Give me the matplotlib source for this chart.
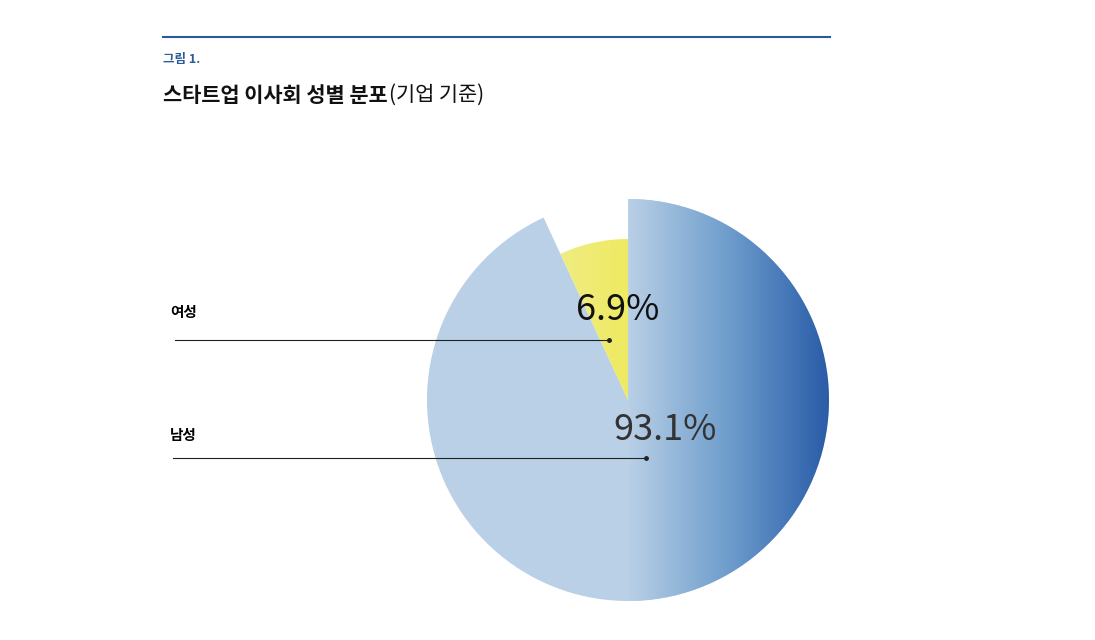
import numpy as np
import matplotlib
matplotlib.use("Agg")
import matplotlib.pyplot as plt
from matplotlib.patches import Wedge
from matplotlib.colors import LinearSegmentedColormap

plt.rcParams['font.family'] = ['Noto Sans CJK KR', 'DejaVu Sans']

categories = ['남성', '여성']
values = [93.1, 6.9]
labels = ['93.1%', '6.9%']

fig = plt.figure(figsize=(10.95, 6.4), dpi=100)
ax = fig.add_axes([0, 0, 1, 1])
ax.set_xlim(0, 1095); ax.set_ylim(640, 0); ax.set_aspect('equal'); ax.axis('off')

cx, cy, R = 628, 400, 201
Rf = 161
# angles in display: y-axis inverted, so use flipped convention
fem_deg = values[1] / sum(values) * 360
# female: from 12 o'clock counterclockwise (visually) -> in inverted y, angles measured clockwise visually
top = -90
fem = Wedge((cx, cy), Rf, top - fem_deg, top, facecolor='none', edgecolor='none')
male = Wedge((cx, cy), R, top, top - fem_deg + 360, facecolor='#b9d0e6', edgecolor='none')
ax.add_patch(male)
ax.add_patch(fem)

# gradient for male right half
grad = np.linspace(0, 1, 256).reshape(1, -1)
cm_m = LinearSegmentedColormap.from_list('m', ['#b9d0e6', '#6e9dcc', '#2a5ca8'])
im = ax.imshow(grad, cmap=cm_m, extent=(cx, cx + R, cy + R, cy - R), aspect='auto', zorder=2)
im.set_clip_path(male)
cm_f = LinearSegmentedColormap.from_list('f', ['#f3f0b0', '#eeea62'])
im2 = ax.imshow(grad, cmap=cm_f, extent=(cx - Rf, cx, cy + Rf, cy - Rf), aspect='auto', zorder=2)
im2.set_clip_path(fem)

# header
ax.plot([163, 830], [37, 37], color='#2b5a9a', lw=1.5)
ax.text(163, 60, '그림 1.', fontsize=9, fontweight='bold', color='#2b5a9a', va='center')
t = ax.text(163, 95, '스타트업 이사회 성별 분포', fontsize=15, fontweight='bold', color='#111', va='center')
fig.canvas.draw()
bb = t.get_window_extent()
ax.text(163 + bb.width + 1, 95, '(기업 기준)', fontsize=15, color='#111', va='center')

# labels
ax.text(170, 312, categories[1], fontsize=10.5, fontweight='bold', va='center')
ax.plot([175, 609], [340, 340], color='#222', lw=0.8, zorder=3)
ax.plot([609], [340], 'o', color='#222', ms=2.5, zorder=3)
ax.text(170, 435, categories[0], fontsize=10.5, fontweight='bold', va='center')
ax.plot([173, 646], [458, 458], color='#222', lw=0.8, zorder=3)
ax.plot([646], [458], 'o', color='#222', ms=2.5, zorder=3)

ax.text(618, 310, labels[1], fontsize=26, ha='center', va='center', color='#111', zorder=4)
ax.text(665, 430, labels[0], fontsize=26, ha='center', va='center', color='#333',
        fontweight='light', zorder=4)

fig.savefig('out.png', dpi=100)
